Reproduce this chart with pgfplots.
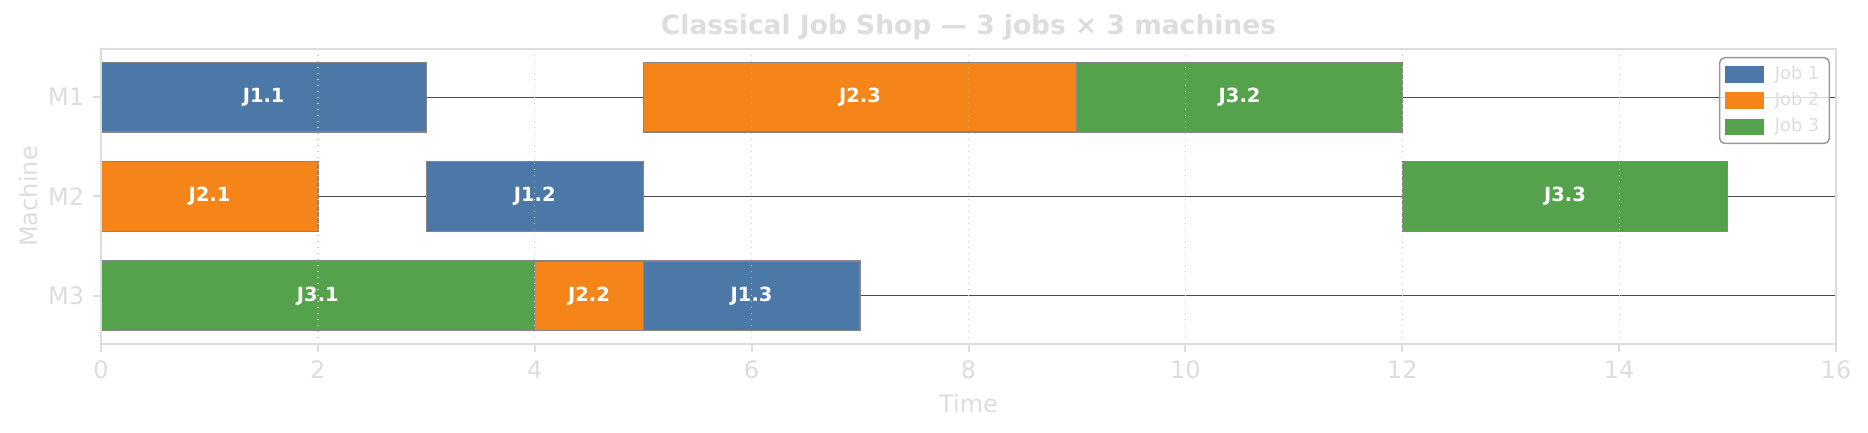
\documentclass[border=0pt]{standalone}
\usepackage{fontspec}
\setmainfont{DejaVu Sans}
\usepackage{pgfplots}
\pgfplotsset{compat=1.18}

\definecolor{jobA}{HTML}{4C78A8}
\definecolor{jobB}{HTML}{F58518}
\definecolor{jobC}{HTML}{54A24B}
\definecolor{faint}{HTML}{DDDDDD}
\definecolor{edge}{HTML}{858585}
\definecolor{rowline}{HTML}{4A4A4A}

% one operation: start, end, lower y, upper y, colour
\newcommand{\task}[5]{%
  \addplot[forget plot, fill=#5, draw=edge, line width=0.5pt]
    coordinates {(#1,#3) (#2,#3) (#2,#4) (#1,#4)} -- cycle;}

\begin{document}
\begin{tikzpicture}
\begin{axis}[
  scale only axis,
  width=694pt, height=118pt,
  xmin=0, xmax=16, ymin=-0.485, ymax=2.485,
  xtick={0,2,...,16},
  ytick={0,1,2}, yticklabels={M3,M2,M1},
  /pgf/number format/assume math mode=true,
  tick pos=left, tick align=outside,
  major tick length=3.2pt,
  tick style={draw=faint, line width=0.8pt},
  axis line style={draw=faint, line width=0.9pt},
  axis on top,
  xmajorgrids,
  grid style={draw=faint!80!gray, dotted, line width=0.5pt},
  ticklabel style={font=\fontsize{9.6}{11}\selectfont, text=faint},
  label style={font=\fontsize{9.6}{11}\selectfont, text=faint},
  xlabel={Time}, ylabel={Machine},
  x label style={at={(axis description cs:0.5,-0.2034)}, anchor=center},
  y label style={at={(axis description cs:-0.0415,0.5)}, anchor=center},
  legend style={at={(axis description cs:1,1)}, anchor=north east,
    xshift=-2.4pt, yshift=-3.2pt, draw=gray!80, line width=0.6pt,
    rounded corners=2pt, fill=white, fill opacity=0.8, text opacity=1,
    text=faint, font=\fontsize{7.1}{8}\selectfont, row sep=-0.4pt,
    inner xsep=2pt, inner ysep=1.2pt},
  legend cell align=left,
  legend image code/.code={\fill[#1, sharp corners, fill opacity=1]
    (0pt,-3pt) rectangle (15.2pt,3pt);
    \path[draw=none, fill=none] (0pt,0pt) -- (17.8pt,0pt);},
]
\addlegendimage{jobA}\addlegendentry{Job 1}
\addlegendimage{jobB}\addlegendentry{Job 2}
\addlegendimage{jobC}\addlegendentry{Job 3}

% machine rows
\addplot[forget plot, rowline, line width=0.5pt] coordinates {(0,2) (16,2)};
\addplot[forget plot, rowline, line width=0.5pt] coordinates {(0,1) (16,1)};
\addplot[forget plot, rowline, line width=0.5pt] coordinates {(0,0) (16,0)};

% M1
\task{0}{3}{1.65}{2.35}{jobA}
\task{5}{9}{1.65}{2.35}{jobB}
\task{9}{12}{1.65}{2.35}{jobC}
% M2
\task{0}{2}{0.65}{1.35}{jobB}
\task{3}{5}{0.65}{1.35}{jobA}
\task{12}{15}{0.65}{1.35}{jobC}
% M3
\task{0}{4}{-0.35}{0.35}{jobC}
\task{4}{5}{-0.35}{0.35}{jobB}
\task{5}{7}{-0.35}{0.35}{jobA}

\begin{scope}[every node/.style={text=white, font=\bfseries\fontsize{7.8}{9}\selectfont}]
\node at (axis cs:1.5,2) {J1.1};
\node at (axis cs:7,2) {J2.3};
\node at (axis cs:10.5,2) {J3.2};
\node at (axis cs:1,1) {J2.1};
\node at (axis cs:4,1) {J1.2};
\node at (axis cs:13.5,1) {J3.3};
\node at (axis cs:2,0) {J3.1};
\node at (axis cs:4.5,0) {J2.2};
\node at (axis cs:6,0) {J1.3};
\end{scope}
\end{axis}
\node[text=faint, font=\bfseries\fontsize{10.6}{12}\selectfont]
  at ([yshift=8.8pt]current axis.north) {Classical Job Shop — 3 jobs × 3 machines};
\pgfresetboundingbox
\path[use as bounding box]
  ([xshift=-40.4pt,yshift=-35.6pt]current axis.south west)
  rectangle ([xshift=12.8pt,yshift=19.6pt]current axis.north east);
\end{tikzpicture}
\end{document}
